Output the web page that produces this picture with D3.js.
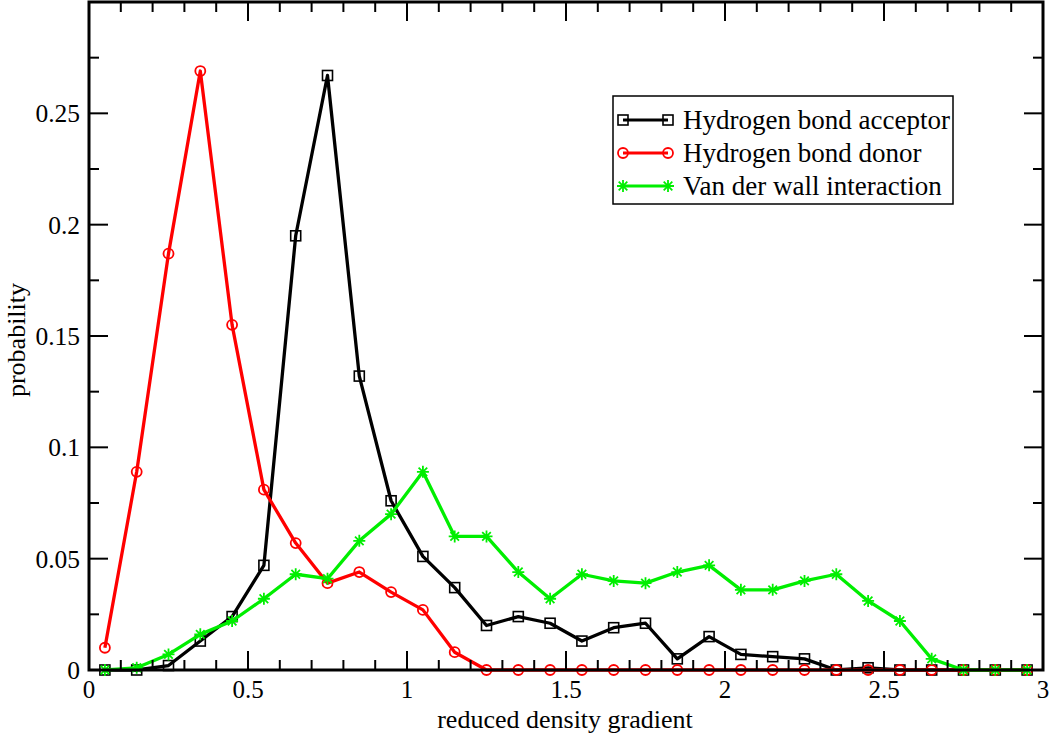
<!DOCTYPE html>
<html>
<head>
<meta charset="utf-8">
<script src="https://cdn.jsdelivr.net/npm/d3@7/dist/d3.min.js"></script>
<style>
  html, body { margin: 0; padding: 0; background: #fff; }
  svg { display: block; }
  text { font-family: "Liberation Serif", "DejaVu Serif", serif; fill: #000; }
</style>
</head>
<body>
<svg id="chart" width="1050" height="734"></svg>
<script>
const xValues = [0.05,0.15,0.25,0.35,0.45,0.55,0.65,0.75,0.85,0.95,1.05,1.15,1.25,1.35,1.45,1.55,1.65,1.75,1.85,1.95,2.05,2.15,2.25,2.35,2.45,2.55,2.65,2.75,2.85,2.95];
const acceptor = [0,0,0.002,0.013,0.024,0.047,0.195,0.267,0.132,0.076,0.051,0.037,0.020,0.024,0.021,0.013,0.019,0.021,0.005,0.015,0.007,0.006,0.005,0,0.001,0,0,0,0,0];
const donor = [0.010,0.089,0.187,0.269,0.155,0.081,0.057,0.039,0.044,0.035,0.027,0.008,0,0,0,0,0,0,0,0,0,0,0,0,0,0,0,0,0,0];
const vdw = [0,0.001,0.007,0.016,0.022,0.032,0.043,0.041,0.058,0.070,0.089,0.060,0.060,0.044,0.032,0.043,0.040,0.039,0.044,0.047,0.036,0.036,0.040,0.043,0.031,0.022,0.005,0,0,0];
const seriesNames = ["Hydrogen bond acceptor","Hydrogen bond donor","Van der wall interaction"];
const xTickLabels = ["0","0.5","1","1.5","2","2.5","3"];
const yTickLabels = ["0","0.05","0.1","0.15","0.2","0.25"];

const svg = d3.select("#chart");
const L = 89, R = 1043, T = 2, B = 670;
const x = d3.scaleLinear().domain([0,3]).range([L,R]);
const y = d3.scaleLinear().domain([0,0.3]).range([B,T]);

const series = [
  {name: seriesNames[0], values: acceptor, color: "#000000", marker: "square"},
  {name: seriesNames[1], values: donor, color: "#ff0000", marker: "circle"},
  {name: seriesNames[2], values: vdw, color: "#00ee00", marker: "star"}
];

function drawMarker(g, type, cx, cy, color) {
  if (type === "square") {
    g.append("rect").attr("x", cx-5).attr("y", cy-5).attr("width", 10).attr("height", 10)
      .attr("fill", "none").attr("stroke", color).attr("stroke-width", 1.6);
  } else if (type === "circle") {
    g.append("circle").attr("cx", cx).attr("cy", cy).attr("r", 5)
      .attr("fill", "none").attr("stroke", color).attr("stroke-width", 1.8);
  } else {
    const s = 6, d = 4.3;
    const p = `M${cx-s},${cy}L${cx+s},${cy}M${cx},${cy-s}L${cx},${cy+s}` +
              `M${cx-d},${cy-d}L${cx+d},${cy+d}M${cx-d},${cy+d}L${cx+d},${cy-d}`;
    g.append("path").attr("d", p).attr("stroke", color).attr("stroke-width", 1.8).attr("fill","none");
  }
}

// Series
const line = d3.line().x((d,i) => x(xValues[i])).y(d => y(d));
series.forEach(s => {
  const g = svg.append("g");
  g.append("path").datum(s.values).attr("d", line)
    .attr("fill", "none").attr("stroke", s.color).attr("stroke-width", 3.3).attr("stroke-linejoin","round");
  s.values.forEach((v,i) => drawMarker(g, s.marker, x(xValues[i]), y(v), s.color));
});

// Ticks (inward, mirrored)
const ax = svg.append("g").attr("stroke", "#000");
const xMinor = d3.range(0, 31).map(i => i/10);
xMinor.forEach((v,i) => {
  const len = (i % 5 === 0) ? 19 : 10;
  const px = x(v);
  ax.append("line").attr("x1", px).attr("x2", px).attr("y1", B).attr("y2", B-len).attr("stroke-width", 2);
  ax.append("line").attr("x1", px).attr("x2", px).attr("y1", T).attr("y2", T+len).attr("stroke-width", 2);
});
const yMinor = d3.range(0, 13).map(i => i*0.025);
yMinor.forEach((v,i) => {
  const len = (i % 2 === 0) ? 19 : 10;
  const py = y(v);
  ax.append("line").attr("y1", py).attr("y2", py).attr("x1", L).attr("x2", L+len).attr("stroke-width", 2);
  ax.append("line").attr("y1", py).attr("y2", py).attr("x1", R).attr("x2", R-len).attr("stroke-width", 2);
});

// Frame
svg.append("rect").attr("x", L).attr("y", T).attr("width", R-L).attr("height", B-T)
  .attr("fill", "none").attr("stroke", "#000").attr("stroke-width", 3);

// Tick labels
xTickLabels.forEach((t,i) => {
  svg.append("text").attr("x", x(i*0.5)).attr("y", 698).attr("text-anchor", "middle")
    .attr("font-size", 25).text(t);
});
yTickLabels.forEach((t,i) => {
  svg.append("text").attr("x", 80).attr("y", y(i*0.05)).attr("dy", "0.35em").attr("text-anchor", "end")
    .attr("font-size", 25.5).text(t);
});

// Axis titles
svg.append("text").attr("x", (L+R)/2 - 1).attr("y", 728).attr("text-anchor", "middle")
  .attr("font-size", 26).text("reduced density gradient");
svg.append("text").attr("transform", `translate(25,${(T+B)/2 + 4}) rotate(-90)`).attr("text-anchor", "middle")
  .attr("font-size", 26).text("probability");

// Legend
const lg = svg.append("g");
lg.append("rect").attr("x", 613).attr("y", 96).attr("width", 340).attr("height", 108)
  .attr("fill", "#fff").attr("stroke", "#000").attr("stroke-width", 1.5);
series.forEach((s,i) => {
  const ly = 120 + i*33;
  lg.append("line").attr("x1", 623).attr("x2", 668).attr("y1", ly).attr("y2", ly)
    .attr("stroke", s.color).attr("stroke-width", 3);
  drawMarker(lg, s.marker, 623, ly, s.color);
  drawMarker(lg, s.marker, 668, ly, s.color);
  lg.append("text").attr("x", 683).attr("y", ly).attr("dy", "0.35em").attr("font-size", 27).text(s.name);
});
</script>
</body>
</html>
